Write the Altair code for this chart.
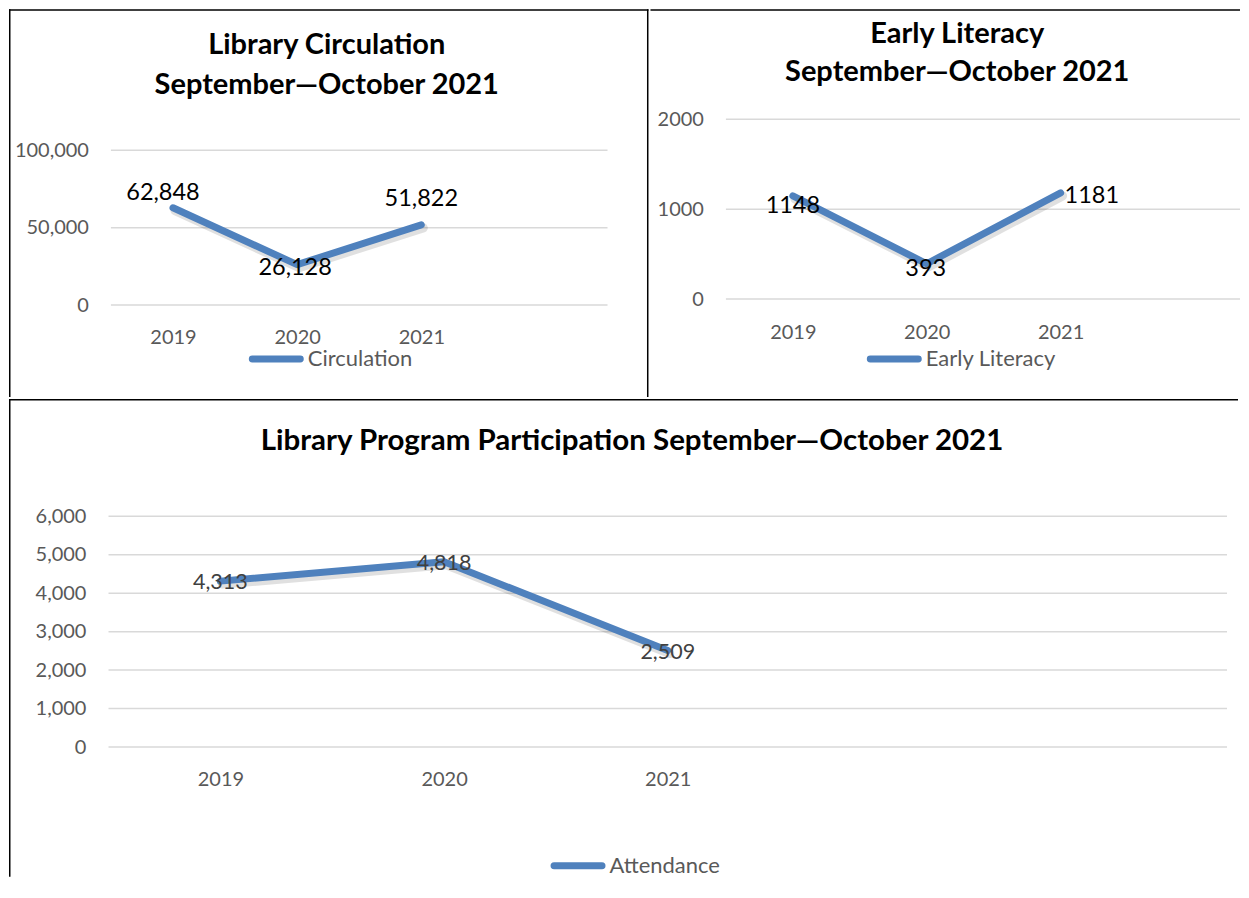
import altair as alt
import pandas as pd

# ---------------- data ----------------
years = [2019, 2020, 2021]
circulation = [62848, 26128, 51822]
early_literacy = [1148, 393, 1181]
attendance = [4313, 4818, 2509]

circ_ticks = [0, 50000, 100000]
lit_ticks = [0, 1000, 2000]
att_ticks = [0, 1000, 2000, 3000, 4000, 5000, 6000]

FONT = "Lato"
LINE = "#4F81BD"
GRID = "#D9D9D9"
AXIS_TXT = "#595959"
ONE = alt.Data(values=[{}])


def border(x1, x2, y1, y2):
    return alt.Chart(ONE).mark_rule(color="black", strokeWidth=1.5).encode(
        x=alt.value(x1), x2=alt.value(x2), y=alt.value(y1), y2=alt.value(y2)
    )


def panel(values, ticks, fmt, xdom, xrng, ydom, yrng, w, h, yoff, xoff,
          title_lines, title_xy, title_lh, title_size, legend_name, legend_rule,
          legend_y, legend_tx, label_layers, label_color, label_size, borders):
    df = pd.DataFrame({"year": years, "value": values})
    gdf = pd.DataFrame({"tick": ticks})
    xs = alt.Scale(domain=xdom, range=xrng)
    ys = alt.Scale(domain=ydom, range=yrng)
    xaxis = alt.Axis(values=years, labelExpr="format(datum.value, 'd')",
                     orient="bottom", offset=xoff,
                     domain=False, ticks=False, tickSize=0, grid=False,
                     labelPadding=0, labelBaseline="alphabetic", labelFont=FONT,
                     labelFontSize=20, labelColor=AXIS_TXT, labelFlush=False,
                     labelOverlap=False, labelBound=False, title=None)
    yaxis = alt.Axis(values=ticks, labelExpr="format(datum.value, '%s')" % fmt,
                     orient="left", offset=yoff,
                     domain=False, ticks=False, tickSize=0, grid=False,
                     labelPadding=0, labelFont=FONT, labelFontSize=20,
                     labelColor=AXIS_TXT, labelOverlap=False, labelBound=False,
                     labelFlush=False, title=None)
    X = alt.X("year:Q", scale=xs, axis=xaxis)
    Y = alt.Y("value:Q", scale=ys, axis=yaxis)

    layers = [border(*b) for b in borders]

    grid = alt.Chart(gdf).mark_rule(color=GRID, strokeWidth=1.5).encode(
        y=alt.Y("tick:Q", scale=ys, axis=yaxis),
        x=alt.XDatum(xdom[0], type="quantitative", scale=xs, axis=xaxis),
        x2=alt.X2Datum(xdom[1]),
    )
    layers.append(grid)

    base = alt.Chart(df)
    shadow = base.mark_line(color="#000000", opacity=0.12, strokeWidth=9,
                            strokeCap="round", strokeJoin="round",
                            xOffset=2, yOffset=3).encode(x=X, y=Y)
    line = base.mark_line(color=LINE, strokeWidth=7, strokeCap="round",
                          strokeJoin="round").encode(x=X, y=Y)
    layers += [shadow, line]

    for yr, align, dx, dy in label_layers:
        layers.append(
            base.transform_filter(alt.datum.year == yr)
            .mark_text(align=align, baseline="alphabetic", dx=dx, dy=dy,
                       font=FONT, fontSize=label_size, color=label_color)
            .encode(x=X, y=Y, text=alt.Text("value:Q", format=fmt))
        )

    layers.append(
        alt.Chart(ONE).mark_text(align="center", baseline="alphabetic",
                                 font=FONT, fontSize=title_size, fontWeight="bold",
                                 color="black", lineHeight=title_lh)
        .encode(x=alt.value(title_xy[0]), y=alt.value(title_xy[1]),
                text=alt.value(title_lines))
    )

    layers.append(
        alt.Chart(ONE).mark_rule(color=LINE, strokeWidth=7, strokeCap="round")
        .encode(x=alt.value(legend_rule[0]), x2=alt.value(legend_rule[1]),
                y=alt.value(legend_y))
    )
    layers.append(
        alt.Chart(ONE).mark_text(align="left", baseline="middle", font=FONT,
                                 fontSize=22, color=AXIS_TXT)
        .encode(x=alt.value(legend_tx), y=alt.value(legend_y),
                text=alt.value(legend_name))
    )

    return alt.layer(*layers).properties(width=w, height=h)


A = panel(circulation, circ_ticks, ",",
          [2018.5, 2022.5], [102, 599], [0, 100000], [296, 141], 640, 388,
          -79.5, -54,
          ["Library Circulation", "September\u2014October 2021"], (318, 45), 40, 29,
          "Circulation", (243.5, 291.5), 350, 299,
          [(2019, "center", -10, -8), (2020, "center", -2, 10), (2021, "center", 0, -19)],
          "black", 23.5,
          [(0.75, 0.75, 0, 388), (0, 640, 0.75, 0.75), (639.25, 639.25, 0, 388)])

B = panel(early_literacy, lit_ticks, "d",
          [2018.5, 2022.34], [75.5, 590], [0, 2000], [290, 110], 590, 388,
          -53, -59,
          ["Early Literacy", "September\u2014October 2021"], (307, 34), 38, 29,
          "Early Literacy", (220, 268), 350, 275.5,
          [(2019, "center", 0, 17), (2020, "center", -1, 12.5), (2021, "left", 4, 10)],
          "black", 23.5,
          [(0, 590, 0.75, 0.75)])

C = panel(attendance, att_ticks, ",",
          [2018.5, 2023.5], [99.6, 1219], [0, 6000], [348.3, 117.3], 1230, 478,
          -77, -91,
          "Library Program Participation September\u2014October 2021", (623.5, 51), 30, 29.5,
          "Attendance", (545.5, 593.5), 467, 601,
          [(2019, "center", 0, 8), (2020, "center", 0, 8), (2021, "center", 0, 8)],
          "#404040", 21.5,
          [(0.75, 0.75, 0, 478), (0, 1230, 0.75, 0.75)])

chart = (
    alt.vconcat(alt.hconcat(A, B, spacing=0), C, spacing=0)
    .properties(padding=0)
    .configure_view(stroke=None)
)

chart.save("out.html", embed_options={"renderer": "svg", "actions": False})
